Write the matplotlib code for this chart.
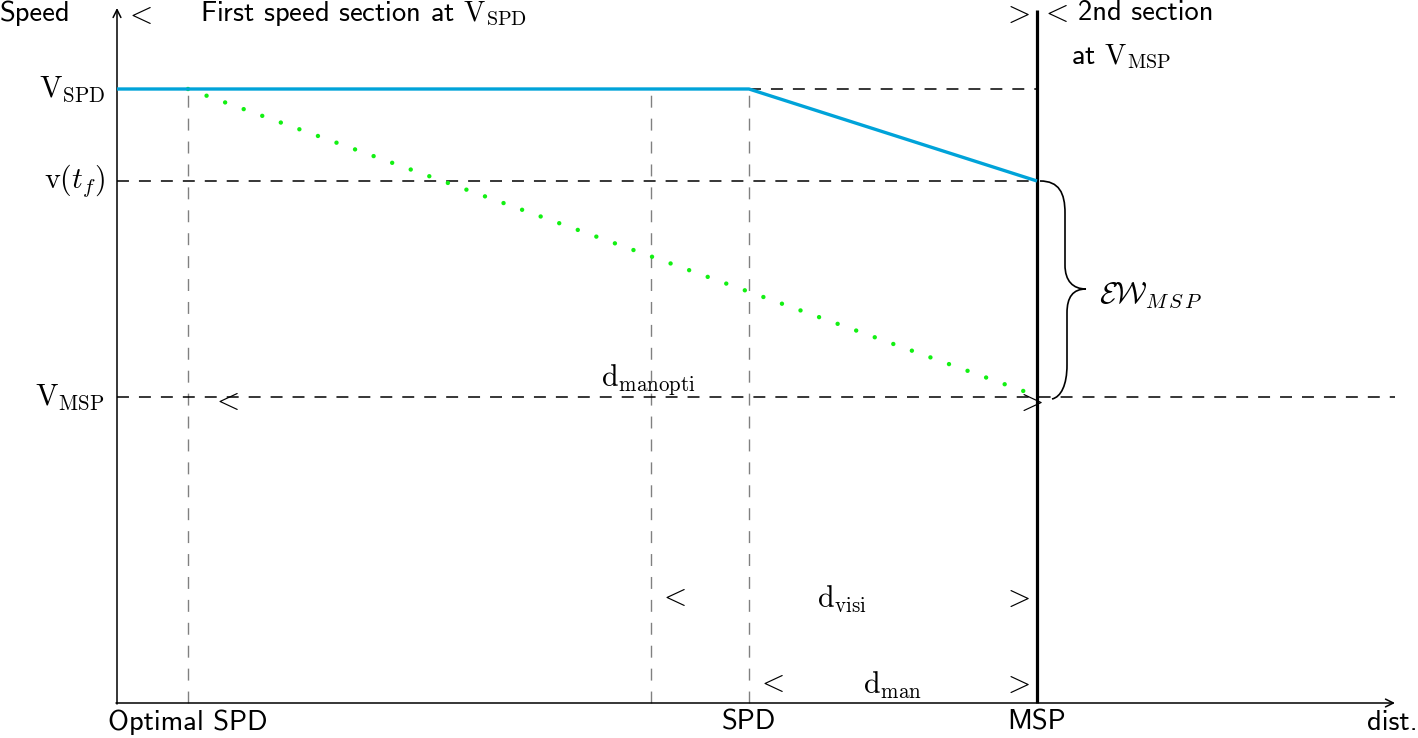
import numpy as np
import matplotlib
matplotlib.use("Agg")
import matplotlib.pyplot as plt
from matplotlib.path import Path
from matplotlib.patches import PathPatch

plt.rcParams['mathtext.fontset'] = 'cm'
plt.rcParams['lines.scale_dashes'] = False

# positions along the distance axis
x_opt = 71      # optimal SPD
x_mid = 534     # start of d_visi
x_spd = 632     # SPD
x_msp = 920     # MSP
x_end = 1278    # end of distance axis
y_end = 695     # end of speed axis

# speeds
v_spd = 614
v_tf = 522
v_msp = 306

# speed profiles
blue_x = [0, x_spd, x_msp]
blue_y = [v_spd, v_spd, v_tf]
green_x = [x_opt, x_msp + 3]
green_y = [v_spd, v_msp]

grey_x = [x_opt, x_mid, x_spd]
tick_labels = ['Optimal SPD', 'SPD', 'MSP']
tick_pos = [x_opt, x_spd, x_msp]

fig = plt.figure(figsize=(14.18, 7.38), dpi=100)
ax = fig.add_axes([0, 0, 1, 1])
ax.set_xlim(-117, 1301)
ax.set_ylim(-35, 703)
ax.axis('off')

sans = 'cmss10'
fs = 20.5   # sans text
fm = 21.5   # math labels

# axes with arrows
ax.annotate('', xy=(x_end, 0), xytext=(-1, 0),
            arrowprops=dict(arrowstyle='->', lw=1.1, color='black', shrinkA=0, shrinkB=0,
                            mutation_scale=14))
ax.annotate('', xy=(0, y_end), xytext=(0, -1),
            arrowprops=dict(arrowstyle='->', lw=1.1, color='black', shrinkA=0, shrinkB=0,
                            mutation_scale=14))

# MSP thick line
ax.plot([x_msp, x_msp], [0, 693], color='black', lw=2.3, solid_capstyle='butt')

# grey dashed verticals
for gx in grey_x:
    ax.plot([gx, gx], [0, v_spd], color='#808080', lw=1.0, dashes=(8.6, 7.9))

# black dashed horizontals
ax.plot([x_spd, x_msp], [v_spd, v_spd], color='black', lw=1.1, dashes=(8.6, 7.2))
ax.plot([0, x_msp], [v_tf, v_tf], color='black', lw=1.1, dashes=(8.6, 7.2))
ax.plot([0, x_end], [v_msp, v_msp], color='black', lw=1.1, dashes=(8.6, 7.2))

# profiles
ax.plot(green_x, green_y, color='#12f012', lw=3.2, dashes=(0.01, 14.2),
        dash_capstyle='round', zorder=4)
ax.plot(blue_x, blue_y, color='#00a3d9', lw=2.4, solid_capstyle='butt', zorder=5)

# curly brace between v_tf and v_msp
ymid = (v_tf + v_msp) / 2
x0 = x_msp
w = 28
tip = 49
verts = [
    (x0 + 3, v_tf),
    (x0 + w - 6, v_tf), (x0 + w, v_tf - 12), (x0 + w, v_tf - 32),
    (x0 + w, ymid + 24),
    (x0 + w, ymid + 8), (x0 + w + 8, ymid), (x0 + tip, ymid),
    (x0 + w + 8, ymid), (x0 + w + 2, ymid - 8), (x0 + w + 2, ymid - 24),
    (x0 + w + 2, v_msp + 32),
    (x0 + w + 2, v_msp + 12), (x0 + w - 4, v_msp), (x0 + 15, v_msp - 2),
]
codes = [Path.MOVETO,
         Path.CURVE4, Path.CURVE4, Path.CURVE4,
         Path.LINETO,
         Path.CURVE4, Path.CURVE4, Path.CURVE4,
         Path.CURVE4, Path.CURVE4, Path.CURVE4,
         Path.LINETO,
         Path.CURVE4, Path.CURVE4, Path.CURVE4]
ax.add_patch(PathPatch(Path(verts, codes), fill=False, lw=1.2, color='black', zorder=6))
ax.text(x0 + 62, ymid - 6, r'$\mathcal{E}\mathcal{W}_{M\,S\,P}$', fontsize=fm,
        va='center', ha='left')

# speed labels
ax.text(-12, v_spd, r'$\mathrm{V}_{\mathrm{SPD}}$', fontsize=fm, ha='right', va='center')
ax.text(-12, v_tf, r'$\mathrm{v}(t_f)$', fontsize=fm, ha='right', va='center')
ax.text(-12, v_msp, r'$\mathrm{V}_{\mathrm{MSP}}$', fontsize=fm, ha='right', va='center')

# top labels
ax.text(-117, 690, 'Speed', family=sans, fontsize=fs, ha='left', va='center')
ax.text(21, 689, r'$<$', fontsize=fm, ha='center', va='center')
ax.text(83, 689, r'First speed section at $\mathrm{V}_{\mathrm{SPD}}$', family=sans,
        fontsize=fs, ha='left', va='center')
ax.text(899, 690, r'$>$', fontsize=fm, ha='center', va='center')
ax.text(923, 690, r'$<$', fontsize=fm, ha='left', va='center')
ax.text(961, 690, '2nd section', family=sans, fontsize=fs, ha='left', va='center')
ax.text(954, 646, r'at $\mathrm{V}_{\mathrm{MSP}}$', family=sans, fontsize=fs,
        ha='left', va='center')

# distance annotations
ax.text(531, 323, r'$\mathrm{d}_{\mathrm{manopti}}$', fontsize=fm, ha='center', va='center')
ax.text(108, 302, r'$<$', fontsize=fm, ha='center', va='center')
ax.text(912, 302, r'$>$', fontsize=fm, ha='center', va='center')
ax.text(555, 106, r'$<$', fontsize=fm, ha='center', va='center')
ax.text(725, 104, r'$\mathrm{d}_{\mathrm{visi}}$', fontsize=fm, ha='center', va='center')
ax.text(899, 106, r'$>$', fontsize=fm, ha='center', va='center')
ax.text(653, 20, r'$<$', fontsize=fm, ha='center', va='center')
ax.text(776, 18, r'$\mathrm{d}_{\mathrm{man}}$', fontsize=fm, ha='center', va='center')
ax.text(899, 20, r'$>$', fontsize=fm, ha='center', va='center')

# distance labels
for pos, lab in zip(tick_pos, tick_labels):
    ax.text(pos, -19, lab, family=sans, fontsize=fs, ha='center', va='center')
ax.text(1301, -19, 'dist.', family=sans, fontsize=fs, ha='right', va='center')

fig.savefig('out.png', dpi=100)
